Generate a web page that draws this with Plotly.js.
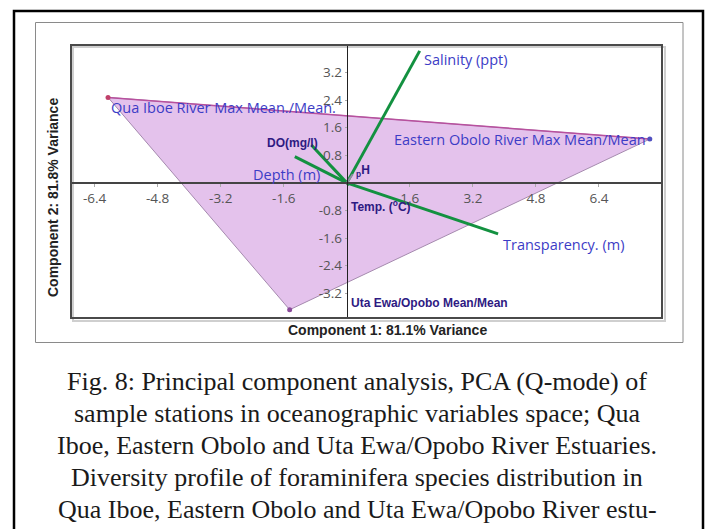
<!DOCTYPE html>
<html>
<head>
<meta charset="utf-8">
<script src="https://cdn.plot.ly/plotly-3.0.1.min.js"></script>
<style>
html,body{margin:0;padding:0;background:#fff;}
#chart{width:712px;height:529px;}
</style>
</head>
<body>
<div id="chart"></div>
<script>
// ---- Data ----
var stationNames = ["Qua Iboe River Max Mean./Mean.", "Eastern Obolo River Max Mean/Mean", "Uta Ewa/Opobo Mean/Mean"];
var stationPC1 = [-6.06, 7.69, -1.45];
var stationPC2 = [2.48, 1.27, -3.68];

var varNames = ["Salinity (ppt)", "Transparency. (m)", "DO(mg/l)", "Depth (m)", "pH", "Temp. (°C)"];
var varPC1 = [1.85, 3.84, -0.90, -1.32, 0.15, 0.04];
var varPC2 = [3.83, -1.48, 1.10, 0.76, 0.25, -0.08];

var xTicks = [-6.4, -4.8, -3.2, -1.6, 1.6, 3.2, 4.8, 6.4];
var yTicks = [-3.2, -2.4, -1.6, -0.8, 0.8, 1.6, 2.4, 3.2];

var xTitle = "Component 1: 81.1% Variance";
var yTitle = "Component 2: 81.8% Variance";

var captionLines = [
  "Fig. 8: Principal component analysis, PCA (Q-mode) of",
  "sample stations in oceanographic variables space; Qua",
  "Iboe, Eastern Obolo and Uta Ewa/Opobo River Estuaries.",
  "Diversity profile of foraminifera species distribution in",
  "Qua Iboe, Eastern Obolo and Uta Ewa/Opobo River estu-"
];

// ---- Layout geometry ----
var W = 712, H = 529;
var mL = 71, mR = 50, mT = 45, mB = 211;
var pw = W - mL - mR, ph = H - mT - mB;
function px(x){ return (x - mL) / pw; }
function py(y){ return 1 - (y - mT) / ph; }

var xRange = [-7, 8];
var yRange = [-3.92, 4.0];
var xAxisPos = (0 - yRange[0]) / (yRange[1] - yRange[0]);
var yAxisPos = (0 - xRange[0]) / (xRange[1] - xRange[0]);

var traces = [];

// Convex hull polygon
traces.push({
  type: 'scatter', mode: 'lines',
  x: stationPC1.concat([stationPC1[0]]),
  y: stationPC2.concat([stationPC2[0]]),
  fill: 'toself', fillcolor: 'rgb(228,194,236)',
  line: {color: '#a58aae', width: 1},
  hoverinfo: 'skip', showlegend: false
});
// Top edge (magenta)
traces.push({
  type: 'scatter', mode: 'lines',
  x: [stationPC1[0], stationPC1[1]],
  y: [stationPC2[0], stationPC2[1]],
  line: {color: '#b8509e', width: 1.5},
  hoverinfo: 'skip', showlegend: false
});
// Station points
traces.push({
  type: 'scatter', mode: 'markers',
  x: stationPC1, y: stationPC2,
  marker: {size: 5, color: ['#c0406a', '#5050c0', '#8a4a9a']},
  showlegend: false
});
// Variable vectors
var vecColors = ['#139140', '#139140', '#139140', '#139140', '#8f8fa0', '#139140'];
var vecWidths = [3, 3, 3, 3, 2, 2];
for (var i = 0; i < varNames.length; i++) {
  traces.push({
    type: 'scatter', mode: 'lines',
    x: [0, varPC1[i]], y: [0, varPC2[i]],
    line: {color: vecColors[i], width: vecWidths[i]},
    showlegend: false, name: varNames[i]
  });
}

var blue = '#3c3cc6';
var dark = '#2e1a82';
var sansLbl = 'Open Sans, Noto Sans, sans-serif';
var boldLbl = 'Liberation Sans, Arial, sans-serif';

var annotations = [];
// Station labels
var stLblCfg = [
  {xanchor: 'left', xshift: 1, yshift: -10, font: {family: sansLbl, size: 14.5, color: blue}},
  {xanchor: 'right', xshift: -2, yshift: 0, font: {family: sansLbl, size: 14.5, color: blue}},
  {xanchor: 'left', xshift: 59, yshift: 7, font: {family: boldLbl, size: 12, color: dark}, bold: true}
];
for (var s = 0; s < stationNames.length; s++) {
  var c = stLblCfg[s];
  annotations.push({
    x: stationPC1[s], y: stationPC2[s], xref: 'x', yref: 'y',
    text: c.bold ? '<b>' + stationNames[s] + '</b>' : stationNames[s],
    showarrow: false, xanchor: c.xanchor, yanchor: 'middle',
    xshift: c.xshift, yshift: c.yshift, font: c.font
  });
}
// Variable labels
var varLblCfg = [
  {xanchor: 'left', xshift: 2, yshift: -9, font: {family: sansLbl, size: 14.5, color: blue}},
  {xanchor: 'left', xshift: 3, yshift: -11, font: {family: sansLbl, size: 14.5, color: blue}},
  {xanchor: 'right', xshift: 9, yshift: 2, font: {family: boldLbl, size: 12, color: dark}, bold: true},
  {xanchor: 'right', xshift: 27, yshift: -18, font: {family: sansLbl, size: 14.5, color: blue}},
  {xanchor: 'left', xshift: 1, yshift: 3, font: {family: boldLbl, size: 12, color: dark}, bold: true},
  {xanchor: 'left', xshift: 1, yshift: -20, font: {family: boldLbl, size: 12, color: dark}, bold: true}
];
for (var v = 0; v < varNames.length; v++) {
  var cf = varLblCfg[v];
  var t = varNames[v];
  if (v === 4) t = '<sub>p</sub>H';
  if (v === 5) t = 'Temp. (<sup>o</sup>C)';
  annotations.push({
    x: varPC1[v], y: varPC2[v], xref: 'x', yref: 'y',
    text: cf.bold ? '<b>' + t + '</b>' : t,
    showarrow: false, xanchor: cf.xanchor, yanchor: 'middle',
    xshift: cf.xshift, yshift: cf.yshift, font: cf.font
  });
}
// Axis titles
annotations.push({
  x: px(387), y: py(330), xref: 'paper', yref: 'paper',
  text: '<b>' + xTitle + '</b>', showarrow: false,
  xanchor: 'center', yanchor: 'middle',
  font: {family: boldLbl, size: 14, color: '#222'}
});
annotations.push({
  x: px(53), y: py(198), xref: 'paper', yref: 'paper',
  text: '<b>' + yTitle + '</b>', showarrow: false, textangle: -90,
  xanchor: 'center', yanchor: 'middle',
  font: {family: boldLbl, size: 14, color: '#222'}
});
// Caption
var capY = [381, 413, 445, 477, 509];
for (var k = 0; k < captionLines.length; k++) {
  annotations.push({
    x: px(357), y: py(capY[k]), xref: 'paper', yref: 'paper',
    text: captionLines[k], showarrow: false,
    xanchor: 'center', yanchor: 'middle',
    font: {family: 'Liberation Serif, Times New Roman, serif', size: 26, color: '#1a1a1a'}
  });
}

var shapes = [
  // outer black frame
  {type: 'rect', xref: 'paper', yref: 'paper', x0: px(14), x1: px(703), y0: py(600), y1: py(11),
   line: {color: '#000', width: 2.5}, layer: 'below'},
  // gray chart box
  {type: 'rect', xref: 'paper', yref: 'paper', x0: px(35.5), x1: px(683), y0: py(342.5), y1: py(22.5),
   line: {color: '#8a8a8a', width: 1}, layer: 'below'},
  // plot frame shadow
  {type: 'rect', xref: 'paper', yref: 'paper', x0: px(73), x1: px(665), y0: py(321), y1: py(47),
   line: {color: '#cfcfcf', width: 2}, layer: 'below'},
  // plot frame
  {type: 'rect', xref: 'paper', yref: 'paper', x0: 0, x1: 1, y0: 0, y1: 1,
   line: {color: '#4a4a4a', width: 2}, layer: 'above'}
];

var tickFont = {family: 'Open Sans, Noto Sans, sans-serif', size: 13.5, color: '#555'};

var layout = {
  width: W, height: H,
  margin: {l: mL, r: mR, t: mT, b: mB, pad: 0},
  paper_bgcolor: 'rgba(0,0,0,0)',
  plot_bgcolor: '#fff',
  showlegend: false,
  xaxis: {
    range: xRange, anchor: 'free', position: xAxisPos,
    showgrid: false, zeroline: false,
    showline: true, linecolor: '#444', linewidth: 2,
    tickmode: 'array', tickvals: xTicks, ticktext: xTicks.map(String),
    ticks: 'outside', ticklen: 3, tickcolor: '#aaa', tickwidth: 1,
    tickfont: tickFont
  },
  yaxis: {
    range: yRange, anchor: 'free', position: yAxisPos,
    showgrid: false, zeroline: false,
    showline: true, linecolor: '#222', linewidth: 1.5,
    tickmode: 'array', tickvals: yTicks, ticktext: yTicks.map(String),
    ticks: 'outside', ticklen: 2, tickcolor: '#aaa', tickwidth: 1,
    tickfont: tickFont
  },
  annotations: annotations,
  shapes: shapes
};

Plotly.newPlot('chart', traces, layout, {displayModeBar: false, staticPlot: true});
</script>
</body>
</html>
